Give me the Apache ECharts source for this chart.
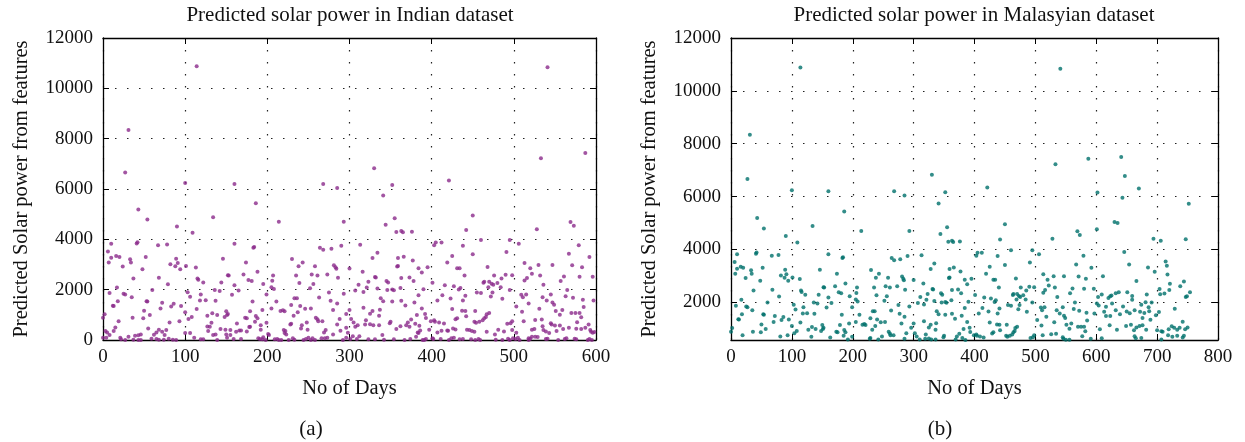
<!DOCTYPE html>
<html>
<head>
<meta charset="utf-8">
<title>Predicted solar power</title>
<script src="https://cdn.jsdelivr.net/npm/echarts@6/dist/echarts.min.js"></script>
<style>
    html, body { margin: 0; padding: 0; background: #fff; }
    #solar_chart { width: 1245px; height: 442px; }
</style>
</head>
<body>
<div id="solar_chart"></div>
<script>
// days 0-600: the same points show in both plots, [day, predicted power]
var commonPoints = [
    [114,10880],[31,8340],[27,6660],[100,6240],
    [43,5190],[54,4790],[90,4510],[134,4880],[109,4260],
    [41,3830],[42,3880],[10,3820],[67,3760],[78,3790],[146,3230],[6,3520],[10,3270],[16,3340],[20,3300],[7,3080],
    [33,3210],[34,3080],[52,3300],[89,3230],[82,3010],[88,2930],[91,3060],[101,2940],[24,2920],[113,2880],
    [48,2810],[94,2810],[152,2570],[37,2440],[68,2470],[116,2390],[115,2440],[122,2280],[79,2220],[144,2280],
    [17,2090],[8,1870],[60,1990],[103,1900],[136,1990],[142,1950],[27,1810],[25,1840],[119,1810],[35,1700],
    [106,1720],[18,1540],[53,1540],[54,1530],[118,1570],[137,1560],[125,1580],[12,1360],[13,1350],[72,1480],
    [86,1440],[70,1250],[83,1330],[95,1350],[50,1160],[114,1230],[100,1100],[2,1020],[0,880],[133,1060],
    [57,990],[36,880],[49,860],[108,910],[127,960],[139,990],[150,1140],[148,910],[152,1030],[151,990],
    [19,750],[93,750],[104,830],[81,700],[127,540],[130,530],[132,690],[55,460],[15,500],[128,360],
    [143,440],[3,360],[5,300],[13,360],[68,410],[65,300],[72,330],[77,400],[100,280],[106,280],
    [134,200],[137,220],[149,410],[150,220],[8,200],[31,130],[43,190],[46,220],[39,170],[62,210],
    [59,50],[75,200],[0,90],[4,90],[21,90],[22,30],[27,0],[37,10],[43,0],[46,0],
    [65,40],[68,10],[74,10],[80,50],[85,10],[89,0],[111,90],[119,30],[122,30],[139,0],[151,90],
    [160,6200],[268,6200],[285,6040],
    [186,5430],[214,4700],[293,4700],[160,3820],[183,3670],[184,3700],[264,3670],[268,3590],[278,3630],[290,3750],
    [230,3220],[243,3080],[174,3080],[238,2930],[258,2930],[281,2970],[283,2890],[284,2830],[300,2840],[188,2710],
    [171,2600],[153,2560],[207,2560],[235,2560],[254,2600],[261,2560],[273,2600],[286,2470],[177,2380],[181,2340],
    [206,2350],[195,2230],[239,2260],[256,2230],[160,2180],[205,2100],[208,2030],[252,2060],[165,1970],[199,1810],
    [157,1800],[275,1890],[293,1840],[263,1690],[233,1660],[236,1660],[182,1530],[211,1530],[277,1560],[285,1450],
    [229,1390],[240,1350],[205,1250],[246,1240],[253,1250],[280,1190],[216,1150],[219,1180],[221,1140],[194,1190],
    [237,1100],[179,1140],[296,1030],[300,1190],[232,960],[173,880],[175,860],[186,950],[188,860],[259,880],
    [261,820],[288,830],[199,690],[185,730],[267,750],[262,750],[302,830],[163,660],[228,620],[229,650],
    [192,590],[242,590],[248,700],[285,620],[178,520],[179,530],[192,410],[155,400],[162,330],[166,380],
    [168,380],[175,340],[220,400],[222,360],[221,280],[241,460],[249,410],[271,400],[269,300],[289,370],
    [296,490],[201,240],[202,200],[223,220],[155,200],[280,220],[298,290],[189,70],[191,40],[194,30],
    [159,40],[168,40],[195,110],[198,0],[209,30],[212,40],[214,0],[217,0],[226,0],[231,70],
    [233,10],[244,0],[247,40],[250,90],[253,0],[255,70],[258,0],[266,70],[270,70],[273,90],
    [292,0],[296,90],[301,40],
    [330,6820],[352,6160],[421,6340],
    [341,5740],[355,4840],[344,4580],[357,4290],[363,4330],[365,4280],[376,4300],[450,4950],[442,4370],[313,3780],
    [405,3870],[403,3760],[412,3870],[438,3750],[334,3470],[328,3260],[359,3260],[366,3310],[377,3160],[425,3340],
    [450,3410],[419,3080],[359,2940],[358,2920],[384,2850],[388,2680],[395,2890],[431,2850],[434,2850],[316,2710],
    [331,2500],[332,2480],[363,2460],[373,2480],[440,2560],[323,2310],[345,2340],[347,2280],[378,2340],[401,2270],
    [311,2200],[416,2180],[427,2140],[435,2070],[433,2010],[321,2090],[334,2050],[307,1970],[317,1910],[346,1990],
    [352,2010],[354,1980],[362,2070],[390,2020],[441,1760],[455,1890],[413,1780],[384,1780],[338,1660],[341,1540],
    [352,1530],[363,1560],[423,1650],[379,1490],[438,1570],[407,1570],[368,1370],[388,1250],[317,1280],[337,1200],
    [328,1150],[325,1040],[425,1230],[437,1160],[441,1150],[453,1150],[382,990],[392,1030],[336,960],[393,870],
    [403,780],[431,860],[429,820],[442,940],[452,730],[454,690],[305,700],[307,530],[310,590],[319,620],
    [325,630],[320,780],[329,590],[336,590],[349,670],[350,730],[357,440],[362,550],[369,590],[371,700],
    [373,530],[375,810],[380,650],[386,380],[385,570],[383,300],[384,280],[399,750],[397,410],[404,730],
    [409,700],[415,660],[407,300],[412,370],[419,380],[420,370],[426,460],[429,420],[443,410],[446,400],
    [449,360],[452,330],[340,200],[304,150],[312,150],[309,40],[323,30],[331,30],[342,10],[354,30],
    [367,0],[374,40],[381,130],[389,0],[391,0],[393,40],[401,70],[402,40],[411,40],[421,0],
    [424,70],[434,30],[438,40],[448,30],[453,0],[427,90],
    [533,7220],[587,7430],[541,10840],
    [528,4400],[569,4690],[573,4540],[460,3970],[495,3970],[506,3820],[579,3760],[491,3500],[567,3430],[592,3300],
    [513,3060],[468,2900],[520,2850],[530,2980],[547,2980],[571,2970],[583,2890],[522,2630],[476,2560],[490,2590],
    [498,2570],[532,2560],[561,2520],[580,2510],[596,2510],[516,2460],[513,2360],[485,2440],[463,2270],[464,2310],
    [470,2310],[473,2240],[475,2200],[480,2260],[469,2100],[484,2100],[536,2200],[557,2340],[460,1870],[474,1890],
    [472,1730],[486,1640],[495,1990],[509,1800],[511,1700],[515,1810],[518,1450],[535,1700],[545,1810],[540,1570],
    [563,1740],[565,1990],[572,1680],[547,1490],[549,1400],[584,1600],[597,1570],[503,1330],[531,1240],[559,1190],
    [510,1120],[551,1150],[556,1000],[570,1070],[575,1070],[580,1070],[585,1310],[470,1070],[467,1020],[466,910],
    [464,860],[462,780],[458,730],[498,750],[496,670],[492,650],[512,750],[526,790],[534,810],[582,900],
    [577,710],[546,620],[550,580],[556,580],[535,550],[545,670],[591,620],[567,490],[576,450],[582,440],
    [587,490],[481,410],[503,290],[467,330],[488,340],[498,400],[522,410],[525,440],[536,400],[539,340],
    [543,280],[552,360],[560,440],[593,400],[594,330],[596,290],[598,320],[518,70],[522,130],[526,130],
    [529,120],[477,220],[457,40],[459,0],[478,10],[486,0],[493,50],[495,0],[499,70],[502,40],
    [505,90],[507,0],[518,0],[520,50],[539,40],[541,50],[554,0],[562,40],[564,70],[574,50],
    [576,30],[590,0],[592,40],[595,0]
];

// days after 600, only in the Malaysian dataset
var malaysianTail = [
    [641,7500],[647,6780],[670,6300],[602,6150],[643,5950],[752,5730],[630,5040],[635,5000],[601,4760],[694,4400],
    [706,4330],[747,4380],[646,3900],[654,3430],[685,3310],[696,3150],[714,3540],[716,3380],[717,3050],[611,2980],
    [666,2800],[744,2780],[721,2700],[738,2600],[704,2500],[720,2460],[754,2380],[749,2230],[747,2200],[651,2380],
    [637,2380],[632,2340],[625,2250],[623,2230],[620,2160],[609,2290],[603,2200],[659,2240],[659,2090],[705,2300],
    [712,2330],[683,2290],[626,1950],[601,1950],[604,1880],[616,1830],[674,1900],[681,2000],[691,1990],[686,1810],
    [644,1840],[632,1700],[650,1650],[655,1580],[663,1700],[672,1640],[679,1590],[687,1660],[613,1640],[639,1540],
    [616,1480],[623,1480],[676,1400],[698,1510],[703,1630],[689,1340],[729,1750],[742,1260],[622,1130],[649,1100],
    [657,1150],[666,1040],[671,1100],[676,1130],[662,940],[682,960],[634,960],[606,980],[719,980],[724,1090],
    [728,1030],[733,960],[737,1030],[746,980],[750,1040],[700,940],[707,900],[709,880],[663,710],[665,640],
    [674,650],[718,750],[725,690],[733,730],[742,660],[744,730],[707,590],[609,640]
];

var xMaxIndian = 600;
var xMaxMalaysian = 800;
var yTicksIndian = [0, 2000, 4000, 6000, 8000, 10000, 12000];
var yTicksMalaysian = [2000, 4000, 6000, 8000, 10000, 12000];
var yMinMalaysian = 570;

var solar_chart = {
    font : 'Liberation Serif',
    /**
     * one x axis pair (bottom with labels, top mirrored)
     */
    xAxes : function(gridIndex, max) {
        var me = this;
        var base = {
            gridIndex : gridIndex,
            type : 'value',
            min : 0,
            max : max,
            interval : 100,
            axisLine : { show : true, onZero : false, lineStyle : { color : '#000', width : 1.3 } },
            axisTick : { show : true, inside : true, length : 6, lineStyle : { color : '#000', width : 1 } },
            splitLine : { show : false }
        };
        var bottom = echarts.util.merge({
            position : 'bottom',
            name : 'No of Days',
            nameLocation : 'middle',
            nameGap : 38,
            nameTextStyle : { fontFamily : me.font, fontSize : 20.5, color : '#111' },
            axisLabel : { margin : 8, fontFamily : me.font, fontSize : 19, color : '#111' },
            splitLine : { show : true, lineStyle : { color : '#222', width : 1.2, type : [ 1.5, 10.5 ] } }
        }, base, false);
        var top = echarts.util.merge({
            position : 'top',
            axisLabel : { show : false }
        }, base, false);
        return [ bottom, top ];
    },
    /**
     * one y axis pair (left with labels, right mirrored)
     */
    yAxes : function(gridIndex, min, ticks) {
        var me = this;
        var base = {
            gridIndex : gridIndex,
            type : 'value',
            min : min,
            max : 12000,
            axisLine : { show : true, onZero : false, lineStyle : { color : '#000', width : 1.3 } },
            axisTick : { show : true, inside : true, length : 6, customValues : ticks, lineStyle : { color : '#000', width : 1 } },
            splitLine : { show : false }
        };
        var left = echarts.util.merge({
            position : 'left',
            name : 'Predicted Solar power from features',
            nameLocation : 'middle',
            nameGap : 71,
            nameTextStyle : { fontFamily : me.font, fontSize : 20.5, color : '#111' },
            axisLabel : {
                margin : 10,
                customValues : ticks,
                fontFamily : me.font,
                fontSize : 19,
                color : '#111',
                formatter : function(v) {
                    return String(v);
                }
            },
            splitLine : { show : true, lineStyle : { color : '#222', width : 1.2, type : [ 1.5, 10.5 ] } }
        }, base, false);
        var right = echarts.util.merge({
            position : 'right',
            axisLabel : { show : false }
        }, base, false);
        return [ left, right ];
    },
    /**
     * 页面初始化
     */
    init : function() {
        var me = this;
        var chart = echarts.init(document.getElementById('solar_chart'));
        var textStyle = { fontFamily : me.font, fontSize : 21, fill : '#111', textAlign : 'center', textVerticalAlign : 'middle' };
        var option = {
            animation : false,
            backgroundColor : '#fff',
            grid : [
                { left : 103, top : 38, width : 493, height : 302 },
                { left : 731, top : 38, width : 487, height : 302 }
            ],
            xAxis : me.xAxes(0, xMaxIndian).concat(me.xAxes(1, xMaxMalaysian)),
            yAxis : me.yAxes(0, 0, yTicksIndian).concat(me.yAxes(1, yMinMalaysian, yTicksMalaysian)),
            graphic : [
                { type : 'text', style : echarts.util.extend({ x : 350, y : 15, text : 'Predicted solar power in Indian dataset' }, textStyle) },
                { type : 'text', style : echarts.util.extend({ x : 974, y : 15, text : 'Predicted solar power in Malasyian dataset' }, textStyle) },
                { type : 'text', style : echarts.util.extend({ x : 311, y : 429, text : '(a)', fontSize : 20 }, textStyle) },
                { type : 'text', style : echarts.util.extend({ x : 940, y : 429, text : '(b)', fontSize : 20 }, textStyle) }
            ],
            series : [ {
                name : 'Indian',
                type : 'scatter',
                xAxisIndex : 0,
                yAxisIndex : 0,
                symbolSize : 4,
                itemStyle : { color : '#8b2b8b' },
                data : commonPoints
            }, {
                name : 'Malaysian',
                type : 'scatter',
                xAxisIndex : 2,
                yAxisIndex : 2,
                symbolSize : 4,
                clip : true,
                itemStyle : { color : '#00706b' },
                data : commonPoints.concat(malaysianTail)
            } ]
        };
        chart.setOption(option);
    }
};

solar_chart.init();
</script>
</body>
</html>
